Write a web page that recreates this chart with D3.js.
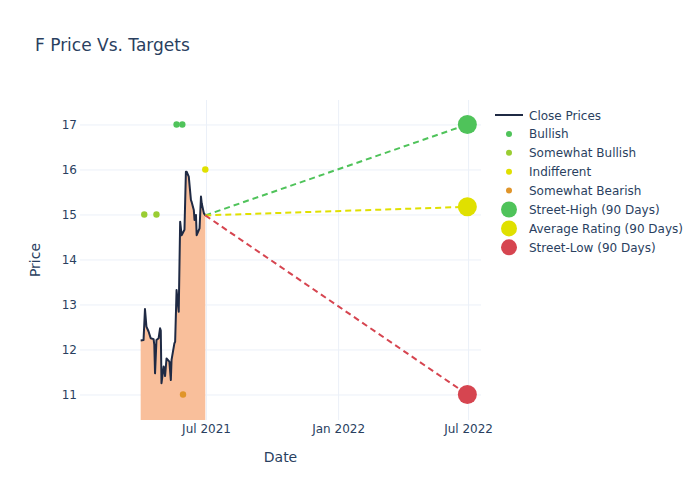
<!DOCTYPE html>
<html>
<head>
<meta charset="utf-8">
<script src="https://cdn.jsdelivr.net/npm/d3@7"></script>
<style>
  body { margin: 0; background: #fff; }
  text { font-family: "DejaVu Sans", sans-serif; }
</style>
</head>
<body>
<script>
// close prices
const closeDates = ["2021-04-01","2021-04-05","2021-04-07","2021-04-09","2021-04-12","2021-04-15","2021-04-19","2021-04-20","2021-04-21","2021-04-23","2021-04-26","2021-04-28","2021-04-29","2021-04-30","2021-05-03","2021-05-04","2021-05-05","2021-05-07","2021-05-11","2021-05-13","2021-05-14","2021-05-18","2021-05-19","2021-05-21","2021-05-24","2021-05-26","2021-05-28","2021-06-01","2021-06-03","2021-06-04","2021-06-07","2021-06-10","2021-06-11","2021-06-14","2021-06-15","2021-06-17","2021-06-18","2021-06-22","2021-06-24","2021-06-25","2021-06-28","2021-06-30"];
const closePrices = [12.20,12.21,12.90,12.51,12.40,12.25,12.23,12.10,11.47,12.21,12.25,12.47,12.42,11.25,11.62,11.55,11.41,11.80,11.73,11.32,11.77,12.14,12.17,13.32,12.84,14.84,14.54,14.66,15.95,15.95,15.84,15.32,15.28,15.10,14.88,14.99,14.54,14.69,15.40,15.25,15.03,14.98];

// analyst ratings
const bullishDates = ["2021-05-21","2021-05-29"];
const bullishPrices = [17, 17];
const somewhatBullishDates = ["2021-04-06","2021-04-23"];
const somewhatBullishPrices = [15, 15];
const indifferentDates = ["2021-06-30"];
const indifferentPrices = [16];
const somewhatBearishDates = ["2021-05-30"];
const somewhatBearishPrices = [11];

// 90 day targets
const targetStartDate = "2021-06-30";
const targetStartPrice = 14.98;
const targetDate = "2022-06-30";
const streetHigh = 17;
const averageRating = 15.17;
const streetLow = 11;

const xTicks = ["2021-07-01", "2022-01-01", "2022-07-01"];
const yTicks = [11, 12, 13, 14, 15, 16, 17];

const parse = d3.timeParse("%Y-%m-%d");
const w = 700, h = 500;
const plotLeft = 80, plotRight = 481, plotTop = 100, plotBottom = 420;

const x = d3.scaleTime()
  .domain([new Date(2021, 0, 6, 12), new Date(2022, 6, 19)])
  .range([plotLeft, plotRight]);
const y = d3.scaleLinear()
  .domain([10.433, 17.544])
  .range([plotBottom, plotTop]);

const svg = d3.select("body").append("svg")
  .attr("width", w)
  .attr("height", h);

svg.append("defs").append("clipPath").attr("id", "plot")
  .append("rect").attr("x", plotLeft).attr("y", plotTop)
  .attr("width", plotRight - plotLeft).attr("height", plotBottom - plotTop);

// grid
svg.append("g")
  .attr("transform", "translate(0," + plotBottom + ")")
  .call(d3.axisBottom(x).tickValues(xTicks.map(parse)).tickFormat(d3.timeFormat("%b %Y")).tickSize(-(plotBottom - plotTop)).tickPadding(4))
  .call(g => g.select(".domain").remove())
  .call(g => g.selectAll("line").attr("stroke", "#ebf0f8"))
  .call(g => g.selectAll("text").attr("fill", "#2a3f5f").style("font-size", "12px"));

svg.append("g")
  .attr("transform", "translate(" + plotLeft + ",0)")
  .call(d3.axisLeft(y).tickValues(yTicks).tickSize(-(plotRight - plotLeft)).tickPadding(3))
  .call(g => g.select(".domain").remove())
  .call(g => g.selectAll("line").attr("stroke", "#ebf0f8"))
  .call(g => g.selectAll("text").attr("fill", "#2a3f5f").style("font-size", "12px"));

const closes = closeDates.map((d, i) => ({ date: parse(d), price: closePrices[i] }));
const plot = svg.append("g").attr("clip-path", "url(#plot)");

plot.append("path")
  .datum(closes)
  .attr("fill", "#f9bf9b")
  .attr("d", d3.area().x(d => x(d.date)).y0(y(0)).y1(d => y(d.price)));

plot.append("path")
  .datum(closes)
  .attr("fill", "none")
  .attr("stroke", "#1f2a44")
  .attr("stroke-width", 2)
  .attr("stroke-linejoin", "round")
  .attr("d", d3.line().x(d => x(d.date)).y(d => y(d.price)));

// target lines
const targets = [
  { value: streetHigh, color: "#4fc35a" },
  { value: averageRating, color: "#e0e000" },
  { value: streetLow, color: "#d64550" }
];
targets.forEach(t => {
  plot.append("line")
    .attr("x1", x(parse(targetStartDate))).attr("y1", y(targetStartPrice))
    .attr("x2", x(parse(targetDate))).attr("y2", y(t.value))
    .attr("stroke", t.color).attr("stroke-width", 2)
    .attr("stroke-dasharray", "6,4");
});

const ratingGroups = [
  { dates: bullishDates, prices: bullishPrices, color: "#4fc35a" },
  { dates: somewhatBullishDates, prices: somewhatBullishPrices, color: "#9acd32" },
  { dates: indifferentDates, prices: indifferentPrices, color: "#e0e000" },
  { dates: somewhatBearishDates, prices: somewhatBearishPrices, color: "#e0952a" }
];
ratingGroups.forEach(r => {
  plot.selectAll(null)
    .data(r.dates.map((d, i) => [parse(d), r.prices[i]]))
    .enter().append("circle")
    .attr("cx", d => x(d[0]))
    .attr("cy", d => y(d[1]))
    .attr("r", 3.2)
    .attr("fill", r.color);
});

targets.forEach(t => {
  plot.append("circle")
    .attr("cx", x(parse(targetDate)))
    .attr("cy", y(t.value))
    .attr("r", 9.5)
    .attr("fill", t.color);
});

// titles
svg.append("text").attr("x", 35).attr("y", 51)
  .text("F Price Vs. Targets")
  .style("font-size", "17px").attr("fill", "#2a3f5f");

svg.append("text").attr("x", (plotLeft + plotRight) / 2).attr("y", 462)
  .attr("text-anchor", "middle").text("Date")
  .style("font-size", "14px").attr("fill", "#2a3f5f");

svg.append("text").attr("transform", "rotate(-90)")
  .attr("x", -(plotTop + plotBottom) / 2).attr("y", 40)
  .attr("text-anchor", "middle").text("Price")
  .style("font-size", "14px").attr("fill", "#2a3f5f");

// legend
const legendItems = [
  { name: "Close Prices", type: "line", color: "#1f2a44" },
  { name: "Bullish", type: "dot", color: "#4fc35a" },
  { name: "Somewhat Bullish", type: "dot", color: "#9acd32" },
  { name: "Indifferent", type: "dot", color: "#e0e000" },
  { name: "Somewhat Bearish", type: "dot", color: "#e0952a" },
  { name: "Street-High (90 Days)", type: "big", color: "#4fc35a" },
  { name: "Average Rating (90 Days)", type: "big", color: "#e0e000" },
  { name: "Street-Low (90 Days)", type: "big", color: "#d64550" }
];
const legend = svg.append("g").attr("transform", "translate(494,115)");
legendItems.forEach((item, i) => {
  const g = legend.append("g").attr("transform", "translate(0," + (i * 18.9) + ")");
  if (item.type === "line") {
    g.append("line").attr("x1", 1).attr("x2", 29).attr("stroke", item.color).attr("stroke-width", 2);
  } else {
    g.append("circle").attr("cx", 15).attr("r", item.type === "big" ? 8 : 3).attr("fill", item.color);
  }
  g.append("text").attr("x", 35).attr("y", 4.5).text(item.name)
    .style("font-size", "12px").attr("fill", "#2a3f5f");
});
</script>
</body>
</html>
